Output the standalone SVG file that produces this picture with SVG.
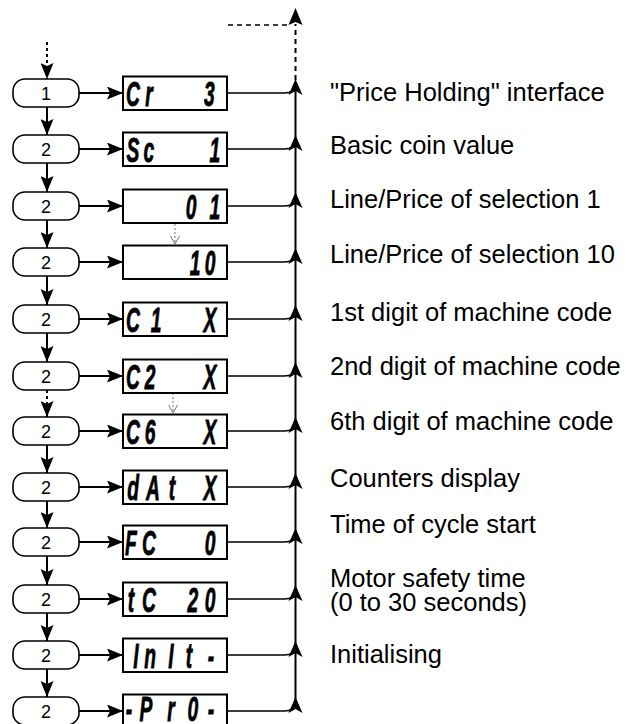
<svg xmlns="http://www.w3.org/2000/svg" width="630" height="724" viewBox="0 0 630 724">
<style>
.btn{fill:#fff;stroke:#000;stroke-width:1.6}
.btxt{font-family:"Liberation Sans",Arial,sans-serif;font-size:18px;text-anchor:middle;fill:#000}
.box{fill:#fff;stroke:#000;stroke-width:2}
.lcd{font-family:"Liberation Sans",Arial,sans-serif;font-weight:bold;font-style:italic;font-size:35px;text-anchor:middle;fill:#000;stroke:#000;stroke-width:0.8}
.lbl{font-family:"Liberation Sans",Arial,sans-serif;font-size:25.5px;fill:#000}
.ln{fill:none;stroke:#000;stroke-width:2}
.th{fill:none;stroke:#000;stroke-width:1.5}
.dash{stroke-dasharray:5 4}
.sdash{stroke-dasharray:3 3}
.grey{fill:none;stroke:#777;stroke-width:1;stroke-dasharray:2 2}
.greyh{fill:none;stroke:#777;stroke-width:1}
.ah{fill:#000}
</style>
<defs>
<marker id="arr" viewBox="0 0 16 13" refX="16" refY="6.5" markerWidth="16" markerHeight="13" markerUnits="userSpaceOnUse" orient="auto">
<path d="M0,0 L16,6.5 L0,13 L3,6.5 z" fill="#000"/>
</marker>
</defs>

<g id="connectors">
<line class="ln sdash" x1="47" y1="42" x2="47" y2="79" marker-end="url(#arr)"/>
<line class="ln" x1="47" y1="107" x2="47" y2="135" marker-end="url(#arr)"/>
<line class="ln" x1="47" y1="163" x2="47" y2="192" marker-end="url(#arr)"/>
<line class="ln" x1="47" y1="220" x2="47" y2="248" marker-end="url(#arr)"/>
<line class="ln" x1="47" y1="276" x2="47" y2="305" marker-end="url(#arr)"/>
<line class="ln" x1="47" y1="333" x2="47" y2="362" marker-end="url(#arr)"/>
<line class="ln sdash" x1="47" y1="390" x2="47" y2="417" marker-end="url(#arr)"/>
<line class="ln" x1="47" y1="445" x2="47" y2="473" marker-end="url(#arr)"/>
<line class="ln" x1="47" y1="501" x2="47" y2="528" marker-end="url(#arr)"/>
<line class="ln" x1="47" y1="556" x2="47" y2="585" marker-end="url(#arr)"/>
<line class="ln" x1="47" y1="613" x2="47" y2="641" marker-end="url(#arr)"/>
<line class="ln" x1="47" y1="669" x2="47" y2="697" marker-end="url(#arr)"/>
<line class="ln" x1="79" y1="93" x2="123" y2="93" marker-end="url(#arr)"/>
<line class="ln" x1="79" y1="149" x2="123" y2="149" marker-end="url(#arr)"/>
<line class="ln" x1="79" y1="206" x2="123" y2="206" marker-end="url(#arr)"/>
<line class="ln" x1="79" y1="262" x2="123" y2="262" marker-end="url(#arr)"/>
<line class="ln" x1="79" y1="319" x2="123" y2="319" marker-end="url(#arr)"/>
<line class="ln" x1="79" y1="376" x2="123" y2="376" marker-end="url(#arr)"/>
<line class="ln" x1="79" y1="431" x2="123" y2="431" marker-end="url(#arr)"/>
<line class="ln" x1="79" y1="487" x2="123" y2="487" marker-end="url(#arr)"/>
<line class="ln" x1="79" y1="542" x2="123" y2="542" marker-end="url(#arr)"/>
<line class="ln" x1="79" y1="599" x2="123" y2="599" marker-end="url(#arr)"/>
<line class="ln" x1="79" y1="655" x2="123" y2="655" marker-end="url(#arr)"/>
<line class="ln" x1="79" y1="711" x2="123" y2="711" marker-end="url(#arr)"/>
<path class="th" d="M227,93 H284 Q295.5,93 295.5,85"/>
<path class="th" d="M227,149 H284 Q295.5,149 295.5,141"/>
<path class="th" d="M227,206 H284 Q295.5,206 295.5,198"/>
<path class="th" d="M227,262 H284 Q295.5,262 295.5,254"/>
<path class="th" d="M227,319 H284 Q295.5,319 295.5,311"/>
<path class="th" d="M227,376 H284 Q295.5,376 295.5,368"/>
<path class="th" d="M227,431 H284 Q295.5,431 295.5,423"/>
<path class="th" d="M227,487 H284 Q295.5,487 295.5,479"/>
<path class="th" d="M227,542 H284 Q295.5,542 295.5,534"/>
<path class="th" d="M227,599 H284 Q295.5,599 295.5,591"/>
<path class="th" d="M227,655 H284 Q295.5,655 295.5,647"/>
<path class="th" d="M227,711 H284 Q295.5,711 295.5,703"/>
<line class="ln" x1="295.5" y1="706" x2="295.5" y2="82"/>
<line class="ln dash" x1="295.5" y1="80" x2="295.5" y2="24"/>
<line class="th dash" x1="228" y1="25" x2="290" y2="25"/>
<path class="ah" d="M295.5,8 L302.5,25 L295.5,22 L288.5,25 z"/>
<path class="ah" d="M295.5,79 L302.5,95 L295.5,91 L288.5,95 z"/>
<path class="ah" d="M295.5,135 L302.5,151 L295.5,147 L288.5,151 z"/>
<path class="ah" d="M295.5,192 L302.5,208 L295.5,204 L288.5,208 z"/>
<path class="ah" d="M295.5,248 L302.5,264 L295.5,260 L288.5,264 z"/>
<path class="ah" d="M295.5,305 L302.5,321 L295.5,317 L288.5,321 z"/>
<path class="ah" d="M295.5,362 L302.5,378 L295.5,374 L288.5,378 z"/>
<path class="ah" d="M295.5,417 L302.5,433 L295.5,429 L288.5,433 z"/>
<path class="ah" d="M295.5,473 L302.5,489 L295.5,485 L288.5,489 z"/>
<path class="ah" d="M295.5,528 L302.5,544 L295.5,540 L288.5,544 z"/>
<path class="ah" d="M295.5,585 L302.5,601 L295.5,597 L288.5,601 z"/>
<path class="ah" d="M295.5,641 L302.5,657 L295.5,653 L288.5,657 z"/>
<path class="ah" d="M295.5,697 L302.5,713 L295.5,709 L288.5,713 z"/>
<line class="grey" x1="175" y1="224" x2="175" y2="243"/>
<path class="greyh" d="M170.5,236 L175,244 L179.5,236"/>
<line class="grey" x1="173" y1="393" x2="173" y2="413"/>
<path class="greyh" d="M168.5,405 L173,413 L177.5,405"/>
</g>

<g id="btn1"><rect class="btn" x="13" y="79" width="66" height="28" rx="12"/><text class="btxt" x="46" y="99.5">1</text></g>
<g id="btn2"><rect class="btn" x="13" y="135" width="66" height="28" rx="12"/><text class="btxt" x="46" y="155.5">2</text></g>
<g id="btn3"><rect class="btn" x="13" y="192" width="66" height="28" rx="12"/><text class="btxt" x="46" y="212.5">2</text></g>
<g id="btn4"><rect class="btn" x="13" y="248" width="66" height="28" rx="12"/><text class="btxt" x="46" y="268.5">2</text></g>
<g id="btn5"><rect class="btn" x="13" y="305" width="66" height="28" rx="12"/><text class="btxt" x="46" y="325.5">2</text></g>
<g id="btn6"><rect class="btn" x="13" y="362" width="66" height="28" rx="12"/><text class="btxt" x="46" y="382.5">2</text></g>
<g id="btn7"><rect class="btn" x="13" y="417" width="66" height="28" rx="12"/><text class="btxt" x="46" y="437.5">2</text></g>
<g id="btn8"><rect class="btn" x="13" y="473" width="66" height="28" rx="12"/><text class="btxt" x="46" y="493.5">2</text></g>
<g id="btn9"><rect class="btn" x="13" y="528" width="66" height="28" rx="12"/><text class="btxt" x="46" y="548.5">2</text></g>
<g id="btn10"><rect class="btn" x="13" y="585" width="66" height="28" rx="12"/><text class="btxt" x="46" y="605.5">2</text></g>
<g id="btn11"><rect class="btn" x="13" y="641" width="66" height="28" rx="12"/><text class="btxt" x="46" y="661.5">2</text></g>
<g id="btn12"><rect class="btn" x="13" y="697" width="66" height="28" rx="12"/><text class="btxt" x="46" y="717.5">2</text></g>

<g id="disp1"><rect class="box" x="123" y="76.5" width="104" height="33.5"/><text class="lcd" xml:space="preserve" transform="translate(-2,0) scale(0.55,1)" x="245.5 274.5 301.8 329.1 356.4 384.5" y="106">Cr   3</text></g>
<g id="disp2"><rect class="box" x="123" y="132.5" width="104" height="33.5"/><text class="lcd" xml:space="preserve" transform="translate(-2,0) scale(0.55,1)" x="245.5 274.5 301.8 329.1 356.4 394.5" y="162">Sc   1</text></g>
<g id="disp3"><rect class="box" x="123" y="189.5" width="104" height="33.5"/><text class="lcd" xml:space="preserve" transform="translate(-2,0) scale(0.55,1)" x="245.5 274.5 301.8 329.1 350.9 394.5" y="219">    01</text></g>
<g id="disp4"><rect class="box" x="123" y="245.5" width="104" height="33.5"/><text class="lcd" xml:space="preserve" transform="translate(-2,0) scale(0.55,1)" x="245.5 274.5 301.8 329.1 358.2 385.5" y="275">    10</text></g>
<g id="disp5"><rect class="box" x="123" y="302.5" width="104" height="33.5"/><text class="lcd" xml:space="preserve" transform="translate(-2,0) scale(0.55,1)" x="245.5 287.3 309.1 336.4 360 385.5" y="332">C1   X</text></g>
<g id="disp6"><rect class="box" x="123" y="359.5" width="104" height="33.5"/><text class="lcd" xml:space="preserve" transform="translate(-2,0) scale(0.55,1)" x="245.5 276.4 305.5 332.7 360 385.5" y="389">C2   X</text></g>
<g id="disp7"><rect class="box" x="123" y="414.5" width="104" height="33.5"/><text class="lcd" xml:space="preserve" transform="translate(-2,0) scale(0.55,1)" x="245.5 276.4 305.5 332.7 360 385.5" y="444">C6   X</text></g>
<g id="disp8"><rect class="box" x="123" y="470.5" width="104" height="33.5"/><text class="lcd" xml:space="preserve" transform="translate(-2,0) scale(0.55,1)" x="245.5 281.8 316.4 341.8 363.6 385.5" y="500">dAt  X</text></g>
<g id="disp9"><rect class="box" x="123" y="525.5" width="104" height="33.5"/><text class="lcd" xml:space="preserve" transform="translate(-2,0) scale(0.55,1)" x="241.8 274.5 301.8 329.1 356.4 385.5" y="555">FC   0</text></g>
<g id="disp10"><rect class="box" x="123" y="582.5" width="104" height="33.5"/><text class="lcd" xml:space="preserve" transform="translate(-2,0) scale(0.55,1)" x="241.8 274.5 301.8 329.1 354.5 385.5" y="612">tC  20</text></g>
<g id="disp11"><rect class="box" x="123" y="638.5" width="104" height="33.5"/><text class="lcd" xml:space="preserve" transform="translate(-2,0) scale(0.55,1)" x="250.9 276.4 296.4 314.5 347.3 387.3" y="668">In It-</text></g>
<g id="disp12"><rect class="box" x="123" y="694.5" width="104" height="33.5"/><text class="lcd" xml:space="preserve" transform="translate(-2,0) scale(0.55,1)" x="238.2 269.1 314.5 354.5 387.3" y="721">-Pr0-</text></g>

<g id="labels">
<text class="lbl" x="330" y="101">"Price Holding" interface</text>
<text class="lbl" x="330" y="154">Basic coin value</text>
<text class="lbl" x="330" y="208">Line/Price of selection 1</text>
<text class="lbl" x="330" y="263">Line/Price of selection 10</text>
<text class="lbl" x="330" y="321">1st digit of machine code</text>
<text class="lbl" x="330" y="375">2nd digit of machine code</text>
<text class="lbl" x="330" y="430">6th digit of machine code</text>
<text class="lbl" x="330" y="487">Counters display</text>
<text class="lbl" x="330" y="533">Time of cycle start</text>
<text class="lbl" x="330" y="587">Motor safety time</text>
<text class="lbl" x="330" y="611">(0 to 30 seconds)</text>
<text class="lbl" x="330" y="663">Initialising</text>
</g>
</svg>
